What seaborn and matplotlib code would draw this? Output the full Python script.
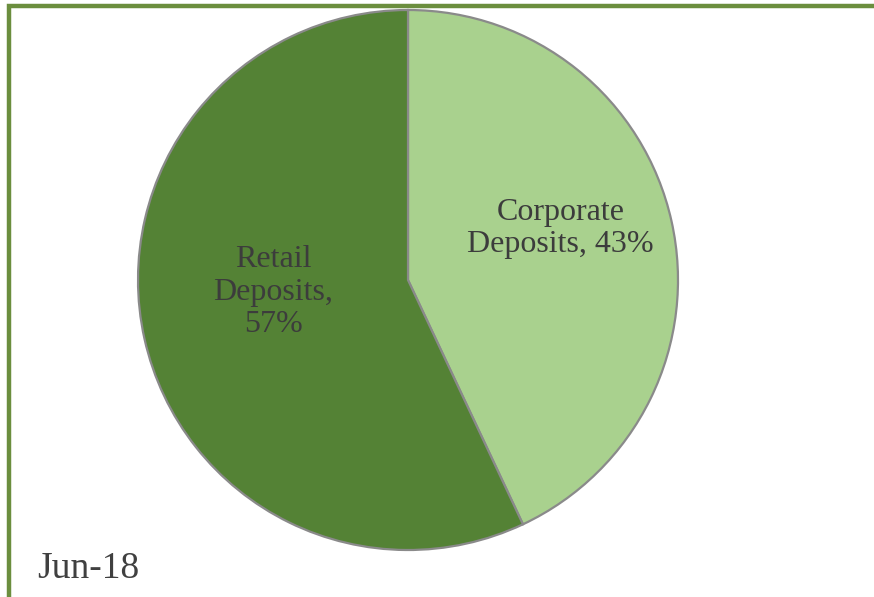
import matplotlib
matplotlib.use("Agg")
import matplotlib.pyplot as plt
from matplotlib.patches import Rectangle
import seaborn as sns

# Deposit mix as of the period shown
categories = ["Corporate\nDeposits", "Retail\nDeposits"]
shares = [43, 57]
period_label = "Jun-18"
colors = ["#a9d18e", "#548235"]

sns.set_theme(style="white")
plt.rcParams["font.family"] = ["Liberation Serif", "DejaVu Serif"]

W, H = 874, 597
fig = plt.figure(figsize=(W / 100, H / 100), dpi=100)
fig.patch.set_facecolor("white")

# Green frame (open at right/bottom edges, as it runs past the canvas)
frame = Rectangle((8.5 / W, -0.05), 1.2, (H - 5.5) / H + 0.05,
                  transform=fig.transFigure, fill=False,
                  edgecolor="#6b8e3e", linewidth=3.2)
fig.patches.append(frame)

# Square axes holding the pie
cx, cy, r = 408, 280, 270
ax = fig.add_axes([(cx - r) / W, (H - cy - r) / H, 2 * r / W, 2 * r / H])
wedges, _ = ax.pie(shares, colors=colors, startangle=90, counterclock=False,
                   radius=1.0,
                   wedgeprops=dict(edgecolor="#8a8a8a", linewidth=1.6))
ax.set_xlim(-1, 1)
ax.set_ylim(-1, 1)
ax.set_aspect("equal")
ax.axis("off")

# Slice labels
label_pos = [(0.565, 0.19), (-0.50, -0.045)]
text_style = dict(ha="center", va="center", fontsize=23, color="#3c3c3c",
                  linespacing=1.15)
corp_name = categories[0].replace("\n", " ").split(" ")
ax.text(*label_pos[0], f"{corp_name[0]}\n{corp_name[1]}, {shares[0]}%",
        **text_style)
ax.text(*label_pos[1], f"{categories[1]},\n{shares[1]}%", **text_style)

# Period caption
fig.text(37 / W, 1 - 578 / H, period_label, ha="left", va="baseline",
         fontsize=27, color="#404040")

fig.savefig("out.png", dpi=100, facecolor="white")
